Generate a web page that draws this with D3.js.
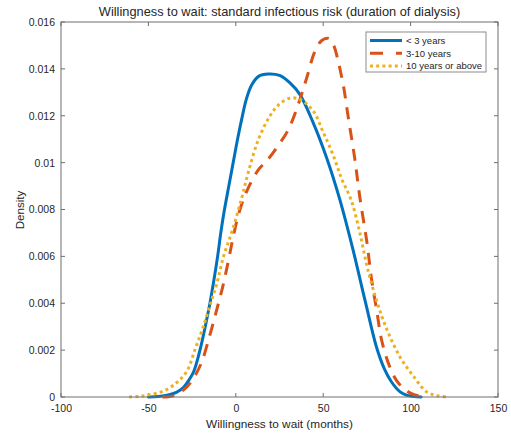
<!DOCTYPE html>
<html>
<head>
<meta charset="utf-8">
<script src="https://cdn.jsdelivr.net/npm/d3@7/dist/d3.min.js"></script>
<style>
body { margin: 0; background: #fff; }
text { font-family: 'Liberation Sans', Arial, Helvetica, sans-serif; fill: #262626; }
</style>
</head>
<body>
<div id="chart"></div>
<script>
// data
var chartTitle = 'Willingness to wait: standard infectious risk (duration of dialysis)';
var xLabel = 'Willingness to wait (months)';
var yLabel = 'Density';
var xTicks = [-100, -50, 0, 50, 100, 150];
var yTicks = [0, 0.002, 0.004, 0.006, 0.008, 0.01, 0.012, 0.014, 0.016];
var seriesNames = ['< 3 years', '3-10 years', '10 years or above'];

var lessThan3X = [-50, -44, -38, -34, -30, -27, -24, -20.5, -17.5, -14.8, -12.5, -10.4, -8.6, -6.7, -4, -1.5, 1, 3.5, 6, 9, 13, 18.6, 25, 31, 36.7, 44, 52, 59.6, 67, 74, 80.6, 85, 89, 94, 98, 102, 106];
var lessThan3Y = [0, 0.00002, 0.0001, 0.0002, 0.0004, 0.0007, 0.0011, 0.002, 0.003, 0.004, 0.005, 0.006, 0.007, 0.0079, 0.009, 0.01, 0.011, 0.0119, 0.0127, 0.0133, 0.01368, 0.01378, 0.01372, 0.0134, 0.0129, 0.01175, 0.0102, 0.0084, 0.0063, 0.0041, 0.0021, 0.0012, 0.00065, 0.00022, 0.00007, 0.00002, 0];

var threeTo10X = [-42, -36, -30, -26, -20, -15, -11, -7.5, -4, -1, 2.4, 7, 13, 18, 24, 30, 35.8, 40.5, 45, 49, 53, 56, 58, 61.5, 64.4, 68, 71, 75, 77.7, 80.6, 83.5, 88, 92, 97, 102, 109];
var threeTo10Y = [0, 0.00005, 0.0003, 0.0006, 0.0014, 0.0026, 0.0037, 0.0047, 0.0059, 0.007, 0.008, 0.0089, 0.0097, 0.0101, 0.0107, 0.0114, 0.0125, 0.0136, 0.0147, 0.0152, 0.0153, 0.015, 0.0145, 0.0133, 0.0119, 0.0102, 0.0085, 0.0066, 0.005, 0.0037, 0.0024, 0.0013, 0.0007, 0.0003, 0.0001, 0];

var tenPlusX = [-61, -55, -49, -41.5, -34, -28, -23, -18.6, -14, -11, -7, -2, 3.4, 7.2, 13, 19.6, 25, 31, 36.7, 44.3, 50, 55.8, 60.6, 66, 71, 75, 80.6, 86.3, 94, 101.5, 109, 115, 122];
var tenPlusY = [0, 0.00003, 0.0001, 0.00025, 0.0006, 0.0011, 0.0021, 0.003, 0.0041, 0.0048, 0.006, 0.0071, 0.0085, 0.0096, 0.011, 0.012, 0.0125, 0.01275, 0.0127, 0.0122, 0.0113, 0.0103, 0.0093, 0.0084, 0.007, 0.0056, 0.0041, 0.0029, 0.0017, 0.0009, 0.00023, 0.00006, 0];

// chart
var margin = { top: 22, right: 13, bottom: 39, left: 61 };
var fullW = 511, fullH = 436;
var width = fullW - margin.left - margin.right;
var height = fullH - margin.top - margin.bottom;

var svg = d3.select('#chart')
	.append('svg')
	.attr('width', fullW)
	.attr('height', fullH);

var g = svg.append('g')
	.attr('transform', 'translate(' + margin.left + ',' + margin.top + ')');

var x = d3.scaleLinear().domain([-100, 150]).range([0, width]);
var y = d3.scaleLinear().domain([0, 0.016]).range([height, 0]);

var axisColor = '#6e6e6e';
var tickLen = 4;

// axes, ticks inside on all four sides (matlab box)
var xAxis = d3.axisBottom(x).tickValues(xTicks).tickSize(0).tickPadding(8)
	.tickFormat(function (d) { return String(d); });
var yAxis = d3.axisLeft(y).tickValues(yTicks).tickSize(0).tickPadding(6)
	.tickFormat(function (d) { return d === 0 ? '0' : String(+d.toFixed(3)); });

var gx = g.append('g').attr('class', 'x axis')
	.attr('transform', 'translate(0,' + height + ')')
	.call(xAxis);
var gy = g.append('g').attr('class', 'y axis').call(yAxis);
[gx, gy].forEach(function (a) {
	a.select('.domain').remove();
	a.selectAll('text').style('font-size', '10.5px').attr('fill', '#262626');
});

var ticks = g.append('g').attr('stroke', axisColor).attr('stroke-width', 1);
xTicks.forEach(function (v) {
	ticks.append('line').attr('x1', x(v)).attr('x2', x(v)).attr('y1', height).attr('y2', height - tickLen);
	ticks.append('line').attr('x1', x(v)).attr('x2', x(v)).attr('y1', 0).attr('y2', tickLen);
});
yTicks.forEach(function (v) {
	ticks.append('line').attr('x1', 0).attr('x2', tickLen).attr('y1', y(v)).attr('y2', y(v));
	ticks.append('line').attr('x1', width).attr('x2', width - tickLen).attr('y1', y(v)).attr('y2', y(v));
});

// curves
var series = [
	{ name: seriesNames[0], xs: lessThan3X, ys: lessThan3Y, color: '#0072BD', dash: null, cap: 'round' },
	{ name: seriesNames[1], xs: threeTo10X, ys: threeTo10Y, color: '#D95319', dash: '12,9', cap: 'butt' },
	{ name: seriesNames[2], xs: tenPlusX, ys: tenPlusY, color: '#EDB120', dash: '3,3.2', cap: 'butt' }
];

var line = d3.line()
	.x(function (d) { return x(d[0]); })
	.y(function (d) { return y(Math.max(0, d[1])); })
	.curve(d3.curveCatmullRom.alpha(0.5));

series.forEach(function (s) {
	var pts = s.xs.map(function (v, i) { return [v, s.ys[i]]; });
	g.append('path')
		.datum(pts)
		.attr('d', line)
		.attr('fill', 'none')
		.attr('stroke', s.color)
		.attr('stroke-width', 3)
		.attr('stroke-linecap', s.cap)
		.attr('stroke-linejoin', 'round')
		.attr('stroke-dasharray', s.dash);
});

// box
g.append('rect')
	.attr('x', 0).attr('y', 0)
	.attr('width', width).attr('height', height)
	.attr('fill', 'none')
	.attr('stroke', axisColor)
	.attr('stroke-width', 1);

// legend
var leg = svg.append('g').attr('transform', 'translate(366,32)');
leg.append('rect')
	.attr('width', 120).attr('height', 40)
	.attr('fill', '#fff')
	.attr('stroke', '#8c8c8c')
	.attr('stroke-width', 1);
series.forEach(function (s, i) {
	var ly = 8.5 + i * 12.7;
	leg.append('line')
		.attr('x1', 4).attr('x2', 36)
		.attr('y1', ly).attr('y2', ly)
		.attr('stroke', s.color)
		.attr('stroke-width', 3)
		.attr('stroke-dasharray', s.dash ? (i === 1 ? '13,13' : s.dash) : null);
	leg.append('text')
		.attr('x', 40)
		.attr('y', ly)
		.attr('dy', '0.35em')
		.style('font-size', '9.5px')
		.text(s.name);
});

// labels
svg.append('text')
	.attr('x', margin.left + width / 2)
	.attr('y', 16)
	.attr('text-anchor', 'middle')
	.style('font-size', '12.8px')
	.text(chartTitle);

svg.append('text')
	.attr('x', margin.left + width / 2)
	.attr('y', 428)
	.attr('text-anchor', 'middle')
	.style('font-size', '11.8px')
	.text(xLabel);

svg.append('text')
	.attr('transform', 'rotate(-90)')
	.attr('x', -210)
	.attr('y', 24)
	.attr('text-anchor', 'middle')
	.style('font-size', '11.6px')
	.text(yLabel);
</script>
</body>
</html>
